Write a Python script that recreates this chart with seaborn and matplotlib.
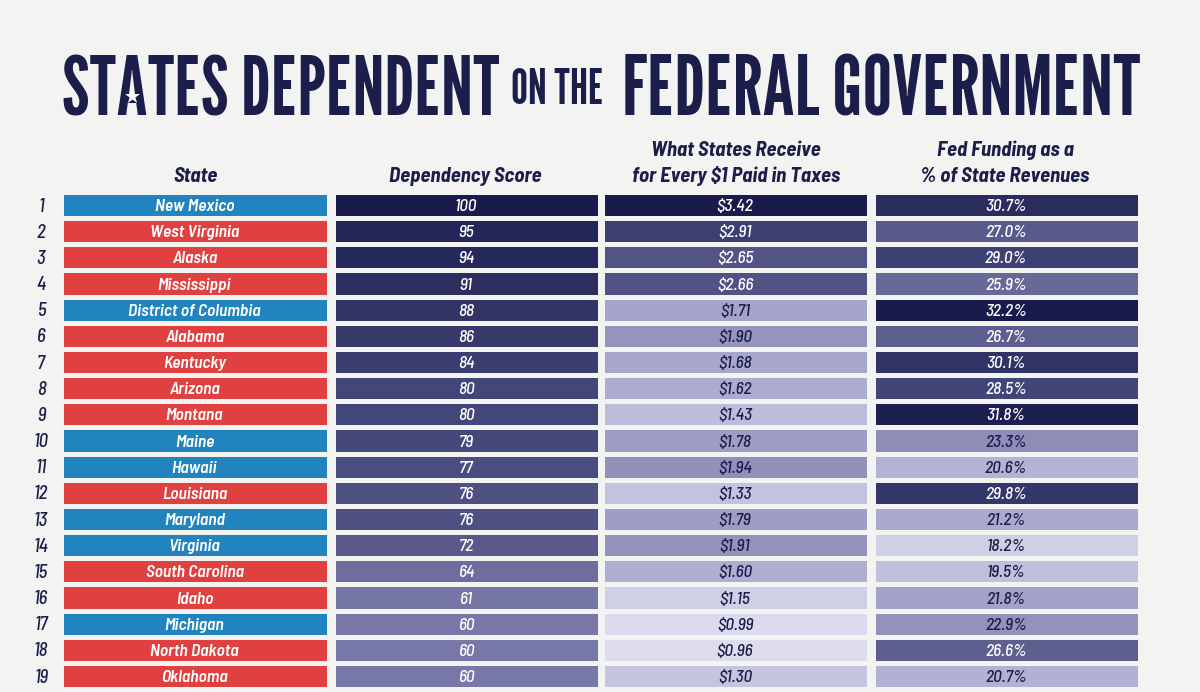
import matplotlib
matplotlib.use("Agg")
import matplotlib.pyplot as plt
from matplotlib.colors import Normalize
import pandas as pd
import seaborn as sns

# ---- data ----
ranks = list(range(1, 21))
states = ["New Mexico", "West Virginia", "Alaska", "Mississippi", "District of Columbia",
          "Alabama", "Kentucky", "Arizona", "Montana", "Maine", "Hawaii", "Louisiana",
          "Maryland", "Virginia", "South Carolina", "Idaho", "Michigan", "North Dakota",
          "Oklahoma", ""]
party = ["D", "R", "R", "R", "D", "R", "R", "R", "R", "D", "D", "R", "D", "D", "R", "R",
         "D", "R", "R", "R"]
scores = [100, 95, 94, 91, 88, 86, 84, 80, 80, 79, 77, 76, 76, 72, 64, 61, 60, 60, 60, 59]
dollars = [3.42, 2.91, 2.65, 2.66, 1.71, 1.90, 1.68, 1.62, 1.43, 1.78, 1.94, 1.33, 1.79,
           1.91, 1.60, 1.15, 0.99, 0.96, 1.30, 1.25]
pct = [30.7, 27.0, 29.0, 25.9, 32.2, 26.7, 30.1, 28.5, 31.8, 23.3, 20.6, 29.8, 21.2,
       18.2, 19.5, 21.8, 22.9, 26.6, 20.7, 29.5]

df = pd.DataFrame({"rank": ranks, "state": states, "party": party, "score": scores,
                   "dollars": dollars, "pct": pct})

BG = "#f3f3f1"
NAVY = "#1b1e4b"
cmap = sns.blend_palette(["#e1e1f1", "#b4b4d6", "#7d7dac", "#45487a", "#191b4d"], as_cmap=True)
party_cmap = sns.color_palette(["#2184bf", "#e0403f"], as_cmap=True)

TITLE_FAM = ["League Gothic", "Anton", "Bebas Neue", "DejaVu Sans"]
FAM = ["Barlow Semi Condensed", "Barlow Condensed", "DejaVu Sans"]

W, H = 1200, 692
fig = plt.figure(figsize=(12, 6.92), dpi=100, facecolor=BG)

# overlay axes in pixel coordinates for title / headers / ranks
ov = fig.add_axes([0, 0, 1, 1])
ov.set_xlim(0, W)
ov.set_ylim(H, 0)
ov.axis("off")
ov.patch.set_alpha(0)

renderer = fig.canvas.get_renderer()


def text_width(s, fs):
    t = ov.text(0, 0, s, fontsize=fs, fontweight="bold", family=TITLE_FAM)
    w = t.get_window_extent(renderer).width
    t.remove()
    return w


def fitted_title(s, x0, x1, baseline):
    fs = 60 * (x1 - x0) / text_width(s, 60)
    ov.text(x0, baseline, s, ha="left", va="baseline", color=NAVY, fontsize=fs,
            fontweight="bold", family=TITLE_FAM)
    return fs


fs_big = fitted_title("STATES DEPENDENT", 62, 500, 115)
fitted_title("ON THE", 511, 604, 104)
fitted_title("FEDERAL GOVERNMENT", 622, 1140, 115)

# star sitting in the "A" of STATES
w_st = text_width("ST", fs_big)
w_sta = text_width("STA", fs_big)
star_x = 62 + (w_st + w_sta) / 2
cap = fs_big * 100 / 72 * 0.7
ov.scatter([star_x], [115 - cap * 0.33], marker="*", s=130, color="white", zorder=5,
           linewidths=0)

hdr = dict(ha="center", va="center", color=NAVY, fontsize=15, fontweight="bold",
           fontstyle="italic", family=FAM)
ov.text(195, 176, "State", **hdr)
ov.text(465, 176, "Dependency Score", **hdr)
ov.text(736, 150, "What States Receive", **hdr)
ov.text(736, 176, "for Every $1 Paid in Taxes", **hdr)
ov.text(1005, 150, "Fed Funding as a", **hdr)
ov.text(1005, 176, "% of State Revenues", **hdr)

# table geometry (px)
row_top = 191.9
row_h = 26.17
tab_h = row_h * len(ranks)
for i, r in enumerate(df["rank"][:19]):
    ov.text(41, row_top + row_h * (i + 0.56), str(r), ha="center", va="center",
            color=NAVY, fontsize=13.5, fontweight=500, fontstyle="italic", family=FAM)

cols = [
    ("party", 60.5, 328.5),
    ("score", 332.5, 599.5),
    ("dollars", 601.5, 868.5),
    ("pct", 872.5, 1139.5),
]
norms = {
    "score": Normalize(16.7, 100),
    "dollars": Normalize(0.9, 3.42),
    "pct": Normalize(16.6, 32.2),
}
labels = {
    "party": df["state"],
    "score": df["score"].map(lambda v: f"{v}"),
    "dollars": df["dollars"].map(lambda v: f"${v:.2f}"),
    "pct": df["pct"].map(lambda v: f"{v:.1f}%"),
}

for key, x0, x1 in cols:
    ax = fig.add_axes([x0 / W, 1 - (row_top + tab_h) / H, (x1 - x0) / W, tab_h / H])
    if key == "party":
        vals = (df[["party"]] == "R").astype(int)
        sns.heatmap(vals, ax=ax, cmap=party_cmap, vmin=0, vmax=1, cbar=False,
                    linewidths=2.2, linecolor=BG, xticklabels=False, yticklabels=False)
    else:
        nm = norms[key]
        sns.heatmap(df[[key]], ax=ax, cmap=cmap, vmin=nm.vmin, vmax=nm.vmax, cbar=False,
                    linewidths=2.2, linecolor=BG, xticklabels=False, yticklabels=False)
    ax.set_xlabel("")
    ax.set_ylabel("")
    # last row sits below the figure edge; only its top sliver shows
    for i, lab in enumerate(labels[key][:19]):
        if key == "party":
            c = "white"
        else:
            c = "white" if norms[key](df[key].iloc[i]) > 0.46 else NAVY
        ax.text(0.5, i + 0.56, lab, ha="center", va="center", color=c, fontsize=12.5,
                fontweight=600 if key == "party" else 500, fontstyle="italic", family=FAM)

fig.savefig("out.png", dpi=100, facecolor=BG)
